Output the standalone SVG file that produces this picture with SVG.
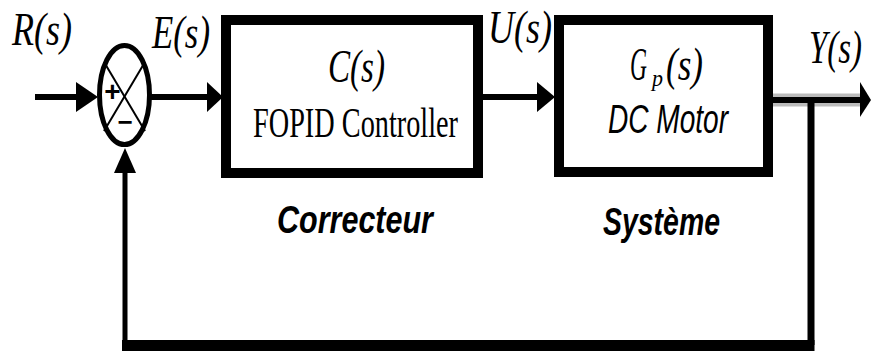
<svg xmlns="http://www.w3.org/2000/svg" width="871" height="351" viewBox="0 0 871 351">
<style>
.sig{font-family:"Liberation Serif",serif;font-style:italic;font-size:46px;fill:#000}
.blk{fill:#fff;stroke:#000;stroke-width:10}
.ln{stroke:#000;fill:none}
.lbl{font-family:"Liberation Sans",sans-serif;font-style:italic;font-weight:bold;font-size:38px;fill:#000}
</style>
<rect width="871" height="351" fill="#fff"/>
<g id="connectors">
  <line class="ln" x1="35" y1="97" x2="80" y2="97" stroke-width="6"/>
  <polygon points="76,82 98,97 76,112"/>
  <line class="ln" x1="150" y1="97" x2="210" y2="97" stroke-width="6"/>
  <polygon points="207,82 223,97 207,112"/>
  <line class="ln" x1="483" y1="97" x2="540" y2="97" stroke-width="6"/>
  <polygon points="537,82 555,97 537,112"/>
  <line x1="773" y1="100" x2="862" y2="100" stroke="#bbb" stroke-width="13"/>
  <line class="ln" x1="773" y1="100" x2="862" y2="100" stroke-width="6"/>
  <polygon points="860,82 871,100 860,117"/>
  <polyline class="ln" points="811,100 811,345" stroke-width="7"/>
  <line class="ln" x1="122" y1="345.5" x2="814.5" y2="345.5" stroke-width="11"/>
  <line class="ln" x1="125" y1="345" x2="125" y2="168" stroke-width="5"/>
  <polygon points="114,173 125,148 136,173"/>
</g>
<g id="sum">
  <ellipse cx="124.5" cy="95" rx="25" ry="49.5" fill="#fff" stroke="#000" stroke-width="5"/>
  <line class="ln" x1="104" y1="62" x2="145" y2="131" stroke-width="2"/>
  <line class="ln" x1="145" y1="62" x2="104" y2="131" stroke-width="2"/>
  <text x="112.5" y="101" font-family="Liberation Sans,sans-serif" font-size="28" font-weight="bold" text-anchor="middle">+</text>
  <text x="125" y="131" font-family="Liberation Sans,sans-serif" font-size="26" font-weight="bold" text-anchor="middle">−</text>
</g>
<g id="controller">
  <rect class="blk" x="226" y="20" width="252" height="153"/>
  <text class="sig" x="328" y="82" font-size="42" textLength="57" lengthAdjust="spacingAndGlyphs">C(s)</text>
  <text x="253" y="137" font-family="Liberation Serif,serif" font-size="43" textLength="205" lengthAdjust="spacingAndGlyphs">FOPID Controller</text>
</g>
<g id="motor">
  <rect class="blk" x="559" y="20" width="209" height="152"/>
  <text class="sig" font-size="42"><tspan x="630" y="80" textLength="17" lengthAdjust="spacingAndGlyphs">G</tspan><tspan x="652" y="86" font-size="24" textLength="11" lengthAdjust="spacingAndGlyphs">p</tspan><tspan x="666" y="80" textLength="37" lengthAdjust="spacingAndGlyphs">(s)</tspan></text>
  <text x="608" y="133" font-family="Liberation Sans,sans-serif" font-style="italic" font-size="40" textLength="120" lengthAdjust="spacingAndGlyphs">DC Motor</text>
</g>
<g id="labels">
  <text class="sig" x="12" y="45" textLength="60" lengthAdjust="spacingAndGlyphs">R(s)</text>
  <text class="sig" x="152" y="48" textLength="58" lengthAdjust="spacingAndGlyphs">E(s)</text>
  <text class="sig" x="488" y="43" textLength="64" lengthAdjust="spacingAndGlyphs">U(s)</text>
  <text class="sig" x="809" y="63" textLength="53" lengthAdjust="spacingAndGlyphs">Y(s)</text>
  <text class="lbl" x="277" y="233" textLength="156" lengthAdjust="spacingAndGlyphs">Correcteur</text>
  <text class="lbl" x="603" y="235" textLength="117" lengthAdjust="spacingAndGlyphs">Système</text>
</g>
</svg>
